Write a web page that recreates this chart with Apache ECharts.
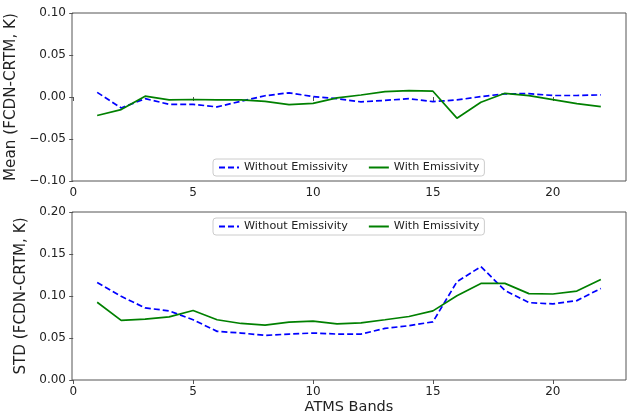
<!DOCTYPE html>
<html>
<head>
<meta charset="utf-8">
<script src="https://cdn.jsdelivr.net/npm/echarts@6.0.0/dist/echarts.min.js"></script>
<style>
  html, body { margin: 0; padding: 0; background: #fff; }
  #chart { width: 629px; height: 415px; }
</style>
</head>
<body>
<div id="chart"></div>
<script>
// ATMS band numbers
const bands = [1, 2, 3, 4, 5, 6, 7, 8, 9, 10, 11, 12, 13, 14, 15, 16, 17, 18, 19, 20, 21, 22]
const xTicks = [0, 5, 10, 15, 20]

// mean of FCDN-CRTM (K)
const meanWithout = [0.0055, -0.013, -0.002, -0.0087, -0.0087, -0.0118, -0.005, 0.0015, 0.005, 0.0005, -0.002,
  -0.0058, -0.004, -0.002, -0.0055, -0.0035, 0.0005, 0.0038, 0.004, 0.0018, 0.0018, 0.0025]
const meanWith = [-0.022, -0.015, 0.001, -0.0035, -0.003, -0.0035, -0.0035, -0.0052, -0.009, -0.0075, -0.001,
  0.0024, 0.0063, 0.0077, 0.0069, -0.0252, -0.0063, 0.0044, 0.0016, -0.0032, -0.0079, -0.0115]

// std of FCDN-CRTM (K)
const stdWithout = [0.116, 0.0996, 0.0858, 0.0823, 0.0717, 0.0579, 0.0559, 0.0531, 0.0547, 0.0559, 0.0547,
  0.0547, 0.0614, 0.0646, 0.0693, 0.117, 0.135, 0.1067, 0.0921, 0.0906, 0.0945, 0.109]
const stdWith = [0.0925, 0.0709, 0.0724, 0.0752, 0.0827, 0.0717, 0.0673, 0.0654, 0.0689, 0.0701, 0.0669,
  0.0681, 0.0717, 0.0756, 0.0823, 0.1004, 0.115, 0.115, 0.1028, 0.1024, 0.1059, 0.1197]

const legendNames = ['Without Emissivity', 'With Emissivity']

const font = 'DejaVu Sans'
const spine = '#555'
const textColor = '#222'

function pairs(ys) {
  return bands.map((b, i) => [b, ys[i]])
}

function fmtY(v) {
  const s = Math.abs(v).toFixed(2)
  return v < -1e-9 ? '\u2212' + s : s
}

function xAxis(idx, name) {
  return {
    type: 'value',
    gridIndex: idx,
    min: -0.05,
    max: 23.05,
    name: name,
    nameLocation: 'middle',
    nameGap: 20,
    nameTextStyle: { fontFamily: font, fontSize: 14.5, color: textColor },
    axisLine: { show: false },
    axisTick: { show: true, length: 4, customValues: xTicks, lineStyle: { color: spine } },
    axisLabel: { customValues: xTicks, margin: 6, fontFamily: font, fontSize: 12, color: textColor },
    splitLine: { show: false }
  }
}

function yAxis(idx, min, max, name) {
  return {
    type: 'value',
    gridIndex: idx,
    min: min,
    max: max,
    interval: 0.05,
    name: name,
    nameLocation: 'middle',
    nameGap: 36,
    nameTextStyle: { fontFamily: font, fontSize: 15.2, color: textColor },
    axisLine: { show: false },
    axisTick: { show: true, length: 4, lineStyle: { color: spine } },
    axisLabel: { margin: 6, fontFamily: font, fontSize: 12, color: textColor, formatter: fmtY },
    splitLine: { show: false }
  }
}

function legend(idx, top) {
  return {
    data: legendNames.map(n => n + (idx ? ' ' : '')),
    left: 213,
    top: top,
    orient: 'horizontal',
    itemWidth: 20,
    itemHeight: 10,
    itemGap: 20,
    padding: [3, 5],
    backgroundColor: '#fff',
    borderColor: '#ccc',
    borderWidth: 1,
    borderRadius: 3,
    // hide the symbol dot, keep the line sample
    itemStyle: { color: 'rgba(0,0,0,0)', borderColor: 'rgba(0,0,0,0)', borderWidth: 0 },
    textStyle: { fontFamily: font, fontSize: 11.2, color: textColor },
    formatter: n => n.trim()
  }
}

function line(name, idx, ys, color, dashed) {
  return {
    name: name,
    type: 'line',
    xAxisIndex: idx,
    yAxisIndex: idx,
    data: pairs(ys),
    symbol: 'none',
    silent: true,
    lineStyle: { color: color, width: 1.7, type: dashed ? [6, 3] : 'solid' },
    itemStyle: { color: color }
  }
}

const chart = echarts.init(document.getElementById('chart'))
chart.setOption({
  animation: false,
  backgroundColor: '#fff',
  grid: [
    { left: 72, top: 13, width: 554, height: 168, outerBoundsMode: 'none', show: true, borderColor: spine, borderWidth: 1 },
    { left: 72, top: 212, width: 554, height: 168, outerBoundsMode: 'none', show: true, borderColor: spine, borderWidth: 1 }
  ],
  xAxis: [xAxis(0, ''), xAxis(1, 'ATMS Bands')],
  yAxis: [
    yAxis(0, -0.1, 0.1, 'Mean (FCDN-CRTM, K)'),
    yAxis(1, 0, 0.2, 'STD (FCDN-CRTM, K)')
  ],
  legend: [legend(0, 159), legend(1, 218)],
  series: [
    line(legendNames[0], 0, meanWithout, '#0000ff', true),
    line(legendNames[1], 0, meanWith, '#008000', false),
    // trailing space keeps the two legends apart
    line(legendNames[0] + ' ', 1, stdWithout, '#0000ff', true),
    line(legendNames[1] + ' ', 1, stdWith, '#008000', false)
  ]
})
</script>
</body>
</html>
